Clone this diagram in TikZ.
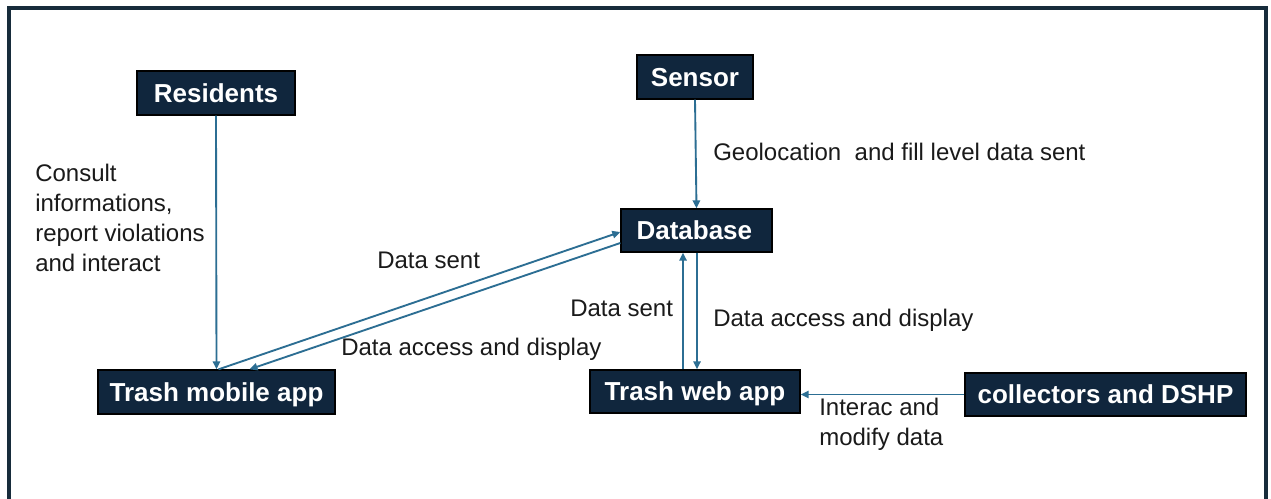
\documentclass[tikz,border=0pt]{standalone}
\usepackage{fontspec}
\setmainfont{Liberation Sans}
\usetikzlibrary{arrows.meta,calc}

\definecolor{boxnavy}{HTML}{10263D}
\definecolor{framenavy}{HTML}{172C3B}
\definecolor{linkblue}{HTML}{2C6E93}
\definecolor{labelink}{HTML}{1A1A1A}

\tikzset{
  entity/.style={draw=black, line width=1pt, fill=boxnavy, text=white,
    font=\fontsize{19.5}{22}\selectfont\bfseries, inner sep=0pt, align=center,
    text height=14pt, text depth=0pt},
  flow/.style={draw=linkblue, line width=1.4pt,
    -{Triangle[length=6pt,width=5.5pt]}},
  note/.style={text=labelink, font=\fontsize{18}{22.5}\selectfont,
    inner sep=0pt, anchor=west, align=left},
}

\begin{document}
\begin{tikzpicture}[x=0.75pt,y=-0.75pt]
  \useasboundingbox (0,0) rectangle (1271,499);
  \fill[white] (0,0) rectangle (1271,499);

  % outer frame (open at the bottom edge of the page)
  \draw[framenavy, line width=2.4pt] (9,499) -- (9,8) -- (1266,8) -- (1266,499);

  % entities
  \node[entity, minimum width=118.5pt, minimum height=33pt]    (res)  at (216,93)    {Residents};
  \node[entity, minimum width=87pt,    minimum height=33pt]    (sen)  at (695,77)    {Sensor};
  \node[entity, minimum width=113.25pt,minimum height=32.25pt] (db)   at (696.5,230.5) {Database\,};
  \node[entity, minimum width=177.75pt,minimum height=33pt]    (mob)  at (216.5,392) {Trash mobile app};
  \node[entity, minimum width=157.5pt, minimum height=32.25pt] (web)  at (695,391.5) {Trash web app};
  \node[entity, minimum width=210.75pt,minimum height=32.25pt] (col)  at (1105.5,394.5) {collectors and DSHP};

  % connectors
  \draw[flow] (res.south) -- (mob.north);
  \draw[flow] (sen.south) -- (db.north);
  \draw[flow] ($(mob.north)+(2,0)$) -- ($(db.west)+(0,1.5)$);
  \draw[flow] ($(db.west)+(0,12.5)$) -- ($(mob.north)+(33,0)$);
  \draw[flow] ($(web.north)+(-12,0)$) -- ($(db.south)+(-13.5,0)$);
  \draw[flow] ($(db.south)+(0.5,0)$) -- ($(web.north)+(2,0)$);
  \draw[flow] (col.west) -- (col.west -| web.east);

  % labels
  \node[note] (lres) at (35,218) {Consult\\informations,\\report violations\\and interact};
  \node[note] (lsen) at (713,152) {Geolocation\ \ and fill level data sent};
  \node[note] (lms)  at (377,260) {Data sent};
  \node[note] (lmd)  at (341,349) {Data access and display};
  \node[note] (lws)  at (570,308) {Data sent};
  \node[note] (lwd)  at (713,320) {Data access and display};
  \node[note] (lcol) at (819,424) {Interac and\\modify data};
\end{tikzpicture}
\end{document}
